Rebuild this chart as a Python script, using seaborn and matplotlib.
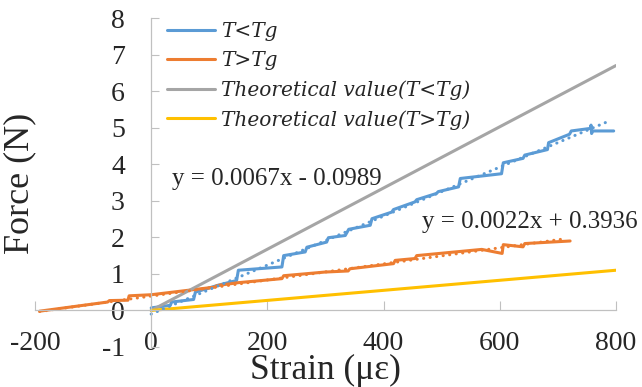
import numpy as np
import pandas as pd
import matplotlib
matplotlib.use("Agg")
import matplotlib.pyplot as plt
from matplotlib.font_manager import FontProperties
import seaborn as sns

# -- Data -------------------------------------------------------
below_x = [0, 33, 35, 73, 76, 113, 147, 150, 225, 228, 265, 268, 302, 305,
           334, 340, 377, 380, 414, 417, 454, 457, 491, 494, 529, 532, 603,
           606, 640, 643, 682, 684, 720, 723, 756, 757, 758, 760, 796]
below_y = [0.07, 0.14, 0.23, 0.30, 0.50, 0.68, 0.82, 1.10, 1.19, 1.50, 1.60,
           1.73, 1.87, 1.99, 2.05, 2.22, 2.33, 2.51, 2.69, 2.76, 2.97, 3.03,
           3.20, 3.25, 3.38, 3.61, 3.74, 4.04, 4.16, 4.25, 4.40, 4.59, 4.82,
           4.91, 4.98, 5.07, 4.84, 4.91, 4.91]

above_x = [-192, -75, -72, -40, -38, 0, 110, 113, 150, 225, 228, 299, 339,
           342, 417, 420, 454, 457, 569, 604, 606, 640, 643, 721]
above_y = [-0.02, 0.23, 0.27, 0.28, 0.40, 0.43, 0.64, 0.68, 0.76, 0.87, 0.95,
           1.05, 1.08, 1.14, 1.28, 1.37, 1.42, 1.50, 1.67, 1.56, 1.80, 1.74,
           1.83, 1.90]

theo_x = [0, 800]
theo_below = [0, 6.70]
theo_above = [0, 1.10]

# trendline equations shown on the chart
trend_below = (0.0067, -0.0989)
trend_above = (0.0022, 0.3936)

x_ticks = [-200, 0, 200, 400, 600, 800]
y_ticks = [-1, 0, 1, 2, 3, 4, 5, 6, 7, 8]

C_BLUE, C_ORANGE, C_GREY, C_YELLOW = "#5B9BD5", "#ED7D31", "#A5A5A5", "#FFC000"
AXIS_C = "#C0C0C0"

sns.set_theme(style="white")
plt.rcParams["font.family"] = ["Liberation Serif", "DejaVu Serif"]
plt.rcParams["axes.unicode_minus"] = False

fig = plt.figure(figsize=(6.42, 3.87), dpi=100)
ax = fig.add_axes([35 / 642, 1 - 347 / 387, 581 / 642, 329 / 387])

lw = 2.2
sns.lineplot(x=below_x, y=below_y, estimator=None, sort=False, ax=ax,
             color=C_BLUE, lw=lw, label="T<Tg")
sns.lineplot(x=above_x, y=above_y, estimator=None, sort=False, ax=ax,
             color=C_ORANGE, lw=lw, label="T>Tg")
sns.lineplot(x=theo_x, y=theo_below, estimator=None, sort=False, ax=ax,
             color=C_GREY, lw=lw, label="Theoretical value(T<Tg)")
sns.lineplot(x=theo_x, y=theo_above, estimator=None, sort=False, ax=ax,
             color=C_YELLOW, lw=lw, label="Theoretical value(T>Tg)")

# dotted trendlines over the data range
for (xs, coef, col) in [(below_x, trend_below, C_BLUE),
                        (above_x, trend_above, C_ORANGE)]:
    tx = np.array([min(xs), max(xs) - 8])
    ax.plot(tx, coef[0] * tx + coef[1], color=col, lw=lw,
            ls=(0, (0.05, 2.1)), dash_capstyle="round")

ax.text(36, 3.6, "y = 0.0067x - 0.0989", fontsize=18, va="center")
ax.text(466, 2.42, "y = 0.0022x + 0.3936", fontsize=18, va="center")

ax.set_xlim(-200, 800)
ax.set_ylim(-1, 8)
ax.set_xticks(x_ticks)
ax.set_yticks(y_ticks)
ax.set_xticklabels([str(v) for v in x_ticks])
ax.set_yticklabels([str(v) for v in y_ticks])

for s in ["top", "right"]:
    ax.spines[s].set_visible(False)
ax.spines["left"].set_position(("data", 0))
ax.spines["bottom"].set_position(("data", 0))
for s in ["left", "bottom"]:
    ax.spines[s].set_color(AXIS_C)
    ax.spines[s].set_linewidth(0.9)

ax.tick_params(axis="x", direction="in", length=6.5, width=0.8,
               color=AXIS_C, pad=15, labelsize=20, bottom=True)
ax.tick_params(axis="y", direction="in", length=6, width=0.8,
               color=AXIS_C, pad=19, labelsize=20, left=True)
ax.set_xlabel("")
ax.set_ylabel("")

fig.text(20 / 642, 1 - 183 / 387, "Force (N)", rotation=90,
         ha="center", va="center", fontsize=26)
fig.text(325 / 642, 1 - 370 / 387, "Strain (\u03bc\u03b5)",
         ha="center", va="center", fontsize=25.5)

# Liberation Serif has no italic face here, so use DejaVu Serif Italic
leg_font = FontProperties(family="DejaVu Serif", style="italic", size=14.5)
leg = ax.legend(loc="upper left", bbox_to_anchor=(167 / 642, 1 - 22 / 387),
                bbox_transform=fig.transFigure, frameon=False,
                prop=leg_font,
                handlelength=2.4, handletextpad=0.3, labelspacing=0.5,
                borderpad=0, borderaxespad=0)

fig.savefig("out.png", dpi=100)
